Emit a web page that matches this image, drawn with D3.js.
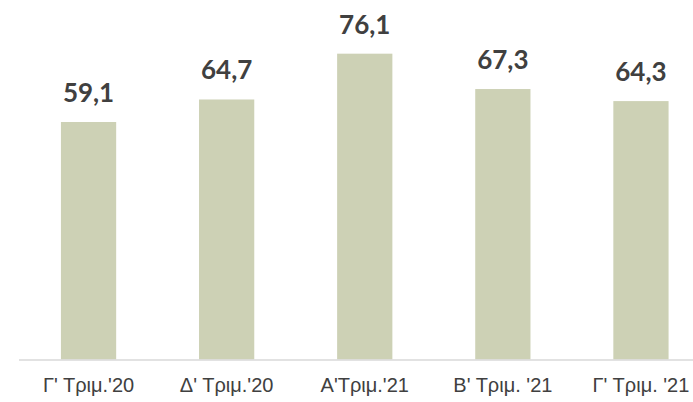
<!DOCTYPE html>
<html>
<head>
<meta charset="utf-8">
<script src="https://cdn.jsdelivr.net/npm/d3@7"></script>
<style>
  body { margin: 0; background: #fff; }
  svg { display: block; }
</style>
</head>
<body>
<svg></svg>
<script>
const width = 693;
const height = 402;

const categories = ["Γ' Τριμ.'20", "Δ' Τριμ.'20", "Α'Τριμ.'21", "Β' Τριμ. '21", "Γ' Τριμ. '21"];
const values = [59.1, 64.7, 76.1, 67.3, 64.3];

const barColor = "#cdd1b5";
const textColor = "#404040";

const svg = d3.select("svg").attr("width", width).attr("height", height);

const x = d3.scaleBand()
  .domain(categories)
  .range([19.5, 710])
  .paddingInner(0.6)
  .paddingOuter(0.3);

const y = d3.scaleLinear()
  .domain([0, 80])
  .range([359.5, 38]);

// bars
svg.append("g")
  .selectAll("rect")
  .data(values)
  .enter()
  .append("rect")
  .attr("x", (d, i) => x(categories[i]))
  .attr("y", (d) => y(d))
  .attr("width", x.bandwidth())
  .attr("height", (d) => y(0) - y(d))
  .attr("fill", barColor);

// value labels
svg.append("g")
  .selectAll("text")
  .data(values)
  .enter()
  .append("text")
  .attr("x", (d, i) => x(categories[i]) + x.bandwidth() / 2)
  .attr("y", (d) => y(d) - 20)
  .attr("text-anchor", "middle")
  .attr("font-family", "Lato")
  .attr("font-weight", "bold")
  .attr("font-size", "26px")
  .attr("fill", textColor)
  .text((d) => d.toFixed(1).replace(".", ","));

// x axis
const xAxis = svg.append("g")
  .attr("transform", `translate(0,${y(0)})`)
  .call(d3.axisBottom(x).tickSize(0).tickPadding(0));

xAxis.select(".domain")
  .attr("d", `M19,0.5H${width}`)
  .attr("stroke", "#d9d9d9")
  .attr("stroke-width", 1.5);

xAxis.selectAll("text")
  .attr("y", 32)
  .attr("dy", 0)
  .attr("font-family", "Liberation Sans, Arial")
  .attr("font-size", "20px")
  .attr("fill", "#404040");
</script>
</body>
</html>
